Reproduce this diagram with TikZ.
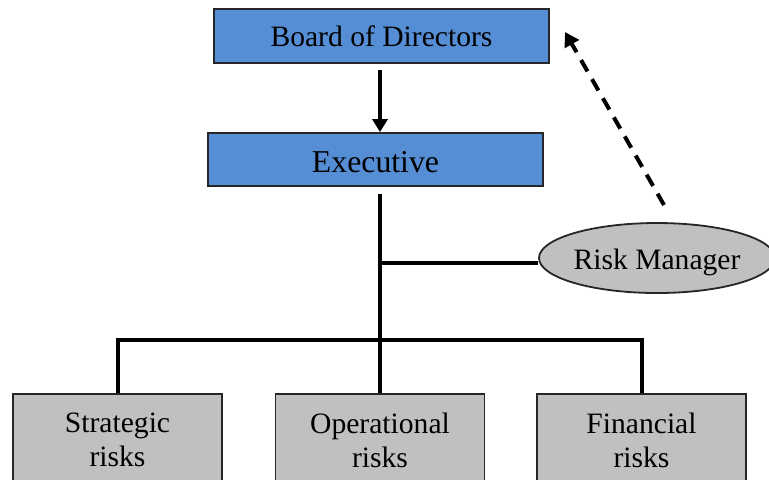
\documentclass[tikz,border=0pt]{standalone}
\usepackage{fontspec}
\setmainfont{Liberation Serif}
\usetikzlibrary{arrows.meta,shapes.geometric}
\definecolor{boardblue}{RGB}{85,142,213}
\definecolor{riskgray}{RGB}{192,192,192}
\begin{document}
\begin{tikzpicture}[x=0.5pt,y=-0.5pt,
  bluebox/.style={draw=black!85,line width=0.9pt,fill=boardblue,inner sep=0pt,
    minimum width=167.5pt,font=\fontsize{14.8}{17}\selectfont},
  riskbox/.style={draw=black!85,line width=0.9pt,fill=riskgray,inner sep=0pt,
    minimum width=104.5pt,minimum height=46pt,align=center,
    font=\fontsize{14.8}{17}\selectfont},
  conn/.style={line width=2pt},
  arr/.style={line width=2pt,-{Triangle[length=6.5pt,width=7.5pt]}},
  dasharr/.style={line width=2pt,dash pattern=on 6.5pt off 4.5pt,
    -{Triangle[length=7pt,width=8pt]}}]
\clip (0,0) rectangle (769,479);
\fill[white] (0,0) rectangle (769,479);
% top of the hierarchy
\node[bluebox,minimum height=27pt] (board) at (381.5,36) {Board of Directors};
\node[bluebox,minimum height=26.5pt,text height=13.4pt,text depth=0pt,
  font=\fontsize{15.9}{18}\selectfont] (exec) at (375.5,159.5) {Executive};
% junctions on the main stem
\coordinate (jRM) at (380,263);
\coordinate (jB) at (380,340);
% risk manager and its reporting line
\node[ellipse,draw=black!85,line width=0.9pt,fill=riskgray,inner sep=0pt,
  minimum width=112pt,minimum height=35pt,text height=11.8pt,text depth=0pt,
  font=\fontsize{14.8}{17}\selectfont] (rm) at (657,258) {Risk Manager};
\coordinate (dashTail) at (664,205);
\coordinate (dashTip) at (565,32);
% risk categories
\node[riskbox] (strat) at (117.5,440) {Strategic\\risks};
\node[riskbox] (oper) at (380,440) {Operational\\risks};
\node[riskbox] (fin) at (641.5,440) {Financial\\risks};
% connectors
\draw[arr] ([yshift=-3pt]board.south -| jB) -- (exec.north -| jB);
\draw[conn] ([yshift=-3.5pt]exec.south -| jB) -- (jB);
\draw[conn] (jRM) -- (rm.west |- jRM);
\draw[conn] (strat.north) -- (strat.north |- jB) -- (fin.north |- jB) -- (fin.north);
\draw[conn] (jB) -- (oper.north);
\draw[dasharr] (dashTail) -- (dashTip);
\end{tikzpicture}
\end{document}
